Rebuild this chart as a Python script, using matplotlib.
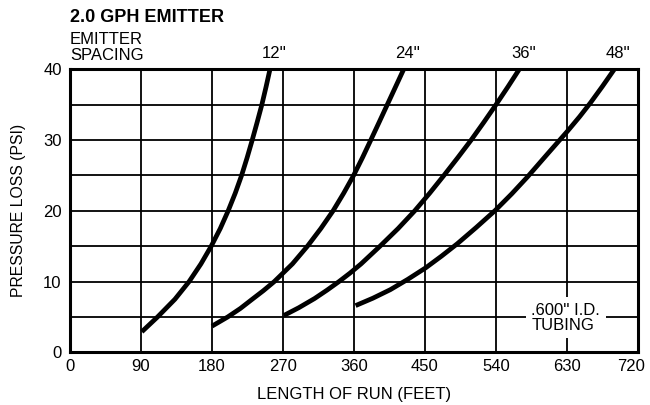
import matplotlib
matplotlib.use('Agg')
import matplotlib.pyplot as plt
import matplotlib.transforms as mtransforms
from matplotlib.ticker import MultipleLocator

plt.rcParams['font.family'] = ['Liberation Sans', 'DejaVu Sans']

# pressure loss curves, one per emitter spacing (length in feet, loss in psi)
spacing_labels = ["12''", "24''", "36''", "48''"]

run_12 = [91, 111, 133, 151, 166, 179, 190.5, 200.5, 209.5, 217.5, 224.5,
          231, 237.2, 243.2, 248.5, 253.5]
psi_12 = [2.9, 5.0, 7.5, 10.0, 12.5, 15.0, 17.5, 20.0, 22.5, 25.0, 27.5,
          30.0, 32.5, 35.0, 37.5, 40.0]

run_24 = [180, 200, 216, 231, 245, 259, 282, 301, 318, 333.5, 347, 359.5,
          370.7, 381.3, 391.8, 402.2, 412.6, 423]
psi_24 = [3.7, 5.0, 6.2, 7.5, 8.7, 10.0, 12.5, 15.0, 17.5, 20.0, 22.5, 25.0,
          27.5, 30.0, 32.5, 35.0, 37.5, 40.0]

run_36 = [271, 290, 310, 326, 341, 355, 369, 393, 416, 437, 456, 474,
          491.5, 508.5, 524.5, 540, 555, 569.5]
psi_36 = [5.2, 6.3, 7.6, 8.8, 10.0, 11.2, 12.5, 15.0, 17.5, 20.0, 22.5, 25.0,
          27.5, 30.0, 32.5, 35.0, 37.5, 40.0]

run_48 = [362, 384, 406, 428, 451, 471, 491, 515, 539, 560, 580, 605,
          631, 646, 660, 675, 690]
psi_48 = [6.6, 7.65, 8.85, 10.3, 11.95, 13.6, 15.35, 17.65, 20.05, 22.4, 24.8,
          28.0, 31.3, 33.3, 35.3, 37.6, 40.0]

x_ticks = [0, 90, 180, 270, 360, 450, 540, 630, 720]
y_ticks = [0, 10, 20, 30, 40]

fig = plt.figure(figsize=(6.5, 4.05), dpi=100)
ax = fig.add_axes([0.1077, 0.1301, 0.8738, 0.6988])

ax.set_xlim(0, 720)
ax.set_ylim(0, 40)
ax.set_xticks(x_ticks)
ax.set_yticks(y_ticks)
ax.yaxis.set_minor_locator(MultipleLocator(5))
ax.tick_params(which='both', length=0, labelsize=12, colors='black')
ax.tick_params(axis='x', pad=5)
ax.tick_params(axis='y', pad=6)
ax.grid(True, which='both', color='black', linewidth=1.3)
ax.set_axisbelow(True)
for side in ax.spines.values():
    side.set_linewidth(2.2)

# pull the last x label in so it stays inside the figure
last = ax.get_xticklabels()[-1]
last.set_transform(last.get_transform() +
                   mtransforms.ScaledTranslation(-5 / 72, 0, fig.dpi_scale_trans))

curves = [(run_12, psi_12), (run_24, psi_24), (run_36, psi_36), (run_48, psi_48)]
for (xs, ys), lab in zip(curves, spacing_labels):
    ax.plot(xs, ys, color='black', linewidth=3.4, solid_capstyle='butt',
            solid_joinstyle='round')
    ax.annotate(lab, xy=(xs[-1], 40), xytext=(3, 6), textcoords='offset points',
                ha='center', va='bottom', fontsize=12, annotation_clip=False)

ax.text(585, 4.9, ".600'' I.D.\nTUBING", ha='left', va='center', fontsize=12,
        linespacing=1.0,
        bbox=dict(facecolor='white', edgecolor='none', pad=4))

ax.set_xlabel('LENGTH OF RUN (FEET)', fontsize=12, labelpad=9)
ax.set_ylabel('PRESSURE LOSS (PSI)', fontsize=11.3)
ax.yaxis.set_label_coords(-0.0775, 0.5)

fig.text(0.1077, 0.9556, '2.0 GPH EMITTER', fontsize=13, fontweight='bold',
         ha='left', va='center')
fig.text(0.1077, 0.9037, 'EMITTER', fontsize=12, ha='left', va='center')
fig.text(0.1077, 0.864, 'SPACING', fontsize=12, ha='left', va='center')

fig.savefig('out.png', dpi=100)
